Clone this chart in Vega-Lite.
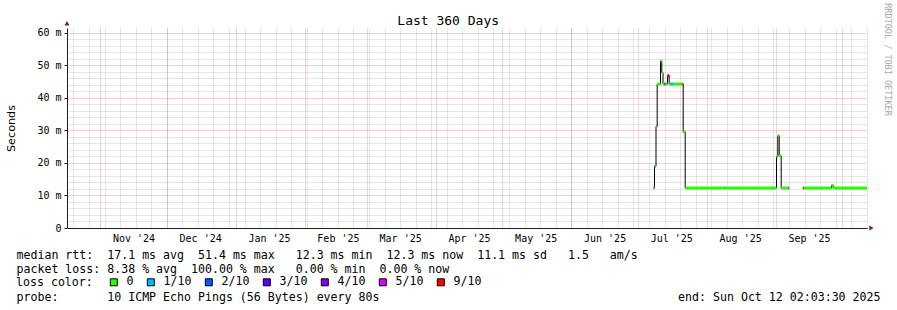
{
  "$schema": "https://vega.github.io/schema/vega-lite/v6.json",
  "width": 800,
  "height": 200,
  "autosize": "none",
  "padding": {"left": 67, "top": 28, "right": 30, "bottom": 82},
  "background": "white",
  "config": {
    "view": {"stroke": null},
    "font": "DejaVu Sans Mono",
    "axis": {
      "labelFont": "DejaVu Sans Mono",
      "titleFont": "DejaVu Sans Mono",
      "titleFontWeight": "normal",
      "titleColor": "black",
      "labelColor": "black"
    }
  },
  "data": {
    "values": [
      {"t0": "2025-07-07T18:52:00Z", "t1": "2025-07-08T11:04:00Z", "v": 0.0123, "loss": "0"},
      {"t0": "2025-07-08T11:04:00Z", "t1": "2025-07-09T03:16:00Z", "v": 0.0190, "loss": "1/10"},
      {"t0": "2025-07-09T03:16:00Z", "t1": "2025-07-09T16:13:00Z", "v": 0.0312, "loss": "1/10"},
      {"t0": "2025-07-09T16:13:00Z", "t1": "2025-07-11T03:52:00Z", "v": 0.0443, "loss": "0"},
      {"t0": "2025-07-11T03:52:00Z", "t1": "2025-07-11T17:54:00Z", "v": 0.0514, "loss": "0"},
      {"t0": "2025-07-11T17:54:00Z", "t1": "2025-07-12T06:52:00Z", "v": 0.0478, "loss": "0"},
      {"t0": "2025-07-12T06:52:00Z", "t1": "2025-07-12T17:40:00Z", "v": 0.0443, "loss": "0"},
      {"t0": "2025-07-12T17:40:00Z", "t1": "2025-07-13T09:52:00Z", "v": 0.0443, "loss": "5/10"},
      {"t0": "2025-07-13T09:52:00Z", "t1": "2025-07-14T07:28:00Z", "v": 0.0443, "loss": "0"},
      {"t0": "2025-07-14T07:28:00Z", "t1": "2025-07-15T01:49:00Z", "v": 0.0469, "loss": "9/10"},
      {"t0": "2025-07-15T01:49:00Z", "t1": "2025-07-15T15:52:00Z", "v": 0.0443, "loss": "0"},
      {"t0": "2025-07-15T15:52:00Z", "t1": "2025-07-16T21:01:00Z", "v": 0.0443, "loss": "1/10"},
      {"t0": "2025-07-16T21:01:00Z", "t1": "2025-07-21T01:28:00Z", "v": 0.0443, "loss": "0"},
      {"t0": "2025-07-21T01:28:00Z", "t1": "2025-07-21T09:01:00Z", "v": 0.0443, "loss": "9/10"},
      {"t0": "2025-07-21T09:01:00Z", "t1": "2025-07-22T06:37:00Z", "v": 0.0296, "loss": "0"},
      {"t0": "2025-07-22T06:37:00Z", "t1": "2025-08-08T23:04:00Z", "v": 0.0123, "loss": "0"},
      {"t0": "2025-08-08T23:04:00Z", "t1": "2025-08-09T09:52:00Z", "v": 0.0123, "loss": "1/10"},
      {"t0": "2025-08-09T09:52:00Z", "t1": "2025-09-01T08:40:00Z", "v": 0.0123, "loss": "0"},
      {"t0": "2025-09-01T08:40:00Z", "t1": "2025-09-01T22:42:00Z", "v": 0.0220, "loss": "0"},
      {"t0": "2025-09-01T22:42:00Z", "t1": "2025-09-02T13:49:00Z", "v": 0.0284, "loss": "0"},
      {"t0": "2025-09-02T13:49:00Z", "t1": "2025-09-03T11:25:00Z", "v": 0.0222, "loss": "0"},
      {"t0": "2025-09-03T11:25:00Z", "t1": "2025-09-06T18:16:00Z", "v": 0.0123, "loss": "0"},
      {"t0": "2025-09-06T18:16:00Z", "t1": "2025-09-07T01:49:00Z", "v": 0.0123, "loss": "3/10"},
      {"t0": "2025-09-07T01:49:00Z", "t1": null, "v": null, "loss": null},
      {"t0": "2025-09-13T04:42:00Z", "t1": "2025-09-13T15:30:00Z", "v": 0.0123, "loss": "9/10"},
      {"t0": "2025-09-13T15:30:00Z", "t1": "2025-09-26T02:40:00Z", "v": 0.0123, "loss": "0"},
      {"t0": "2025-09-26T02:40:00Z", "t1": "2025-09-26T21:01:00Z", "v": 0.0131, "loss": "0"},
      {"t0": "2025-09-26T21:01:00Z", "t1": "2025-10-12T02:03:30Z", "v": 0.0123, "loss": "0"}
    ]
  },
  "resolve": {"axis": {"x": "independent", "y": "independent"}, "scale": {"color": "independent"}},
  "layer": [
    {
      "mark": {"type": "line", "interpolate": "step-after", "color": "#000000", "strokeWidth": 1, "invalid": "break-paths-show-domains"},
      "encoding": {
        "x": {
          "field": "t0", "type": "temporal",
          "scale": {"type": "utc", "domain": [{"year": 2024, "month": 10, "date": 17, "hours": 2, "minutes": 3, "seconds": 30, "utc": true}, {"year": 2025, "month": 10, "date": 12, "hours": 2, "minutes": 3, "seconds": 30, "utc": true}]},
          "axis": {
            "orient": "bottom",
            "values": [
              {"year": 2024, "month": 11, "date": 16, "utc": true},
              {"year": 2024, "month": 12, "date": 16, "utc": true},
              {"year": 2025, "month": 1, "date": 16, "utc": true},
              {"year": 2025, "month": 2, "date": 16, "utc": true},
              {"year": 2025, "month": 3, "date": 16, "utc": true},
              {"year": 2025, "month": 4, "date": 16, "utc": true},
              {"year": 2025, "month": 5, "date": 16, "utc": true},
              {"year": 2025, "month": 6, "date": 16, "utc": true},
              {"year": 2025, "month": 7, "date": 16, "utc": true},
              {"year": 2025, "month": 8, "date": 16, "utc": true},
              {"year": 2025, "month": 9, "date": 16, "utc": true}
            ],
            "labelExpr": "utcFormat(datum.value, \"%b '%y\")",
            "labelFontSize": 10,
            "labelPadding": 5,
            "labelAlign": "center",
            "labelFlush": false,
            "labelOverlap": false,
            "ticks": false,
            "grid": false,
            "domain": true,
            "domainColor": "#1f1f1f",
            "title": [
              "median rtt:\u00a0\u00a017.1 ms avg\u00a0\u00a051.4 ms max\u00a0\u00a0\u00a012.3 ms min\u00a0\u00a012.3 ms now\u00a0\u00a011.1 ms sd\u00a0\u00a0\u00a01.5\u00a0\u00a0\u00a0am/s",
              "packet loss:\u00a08.38 % avg\u00a0\u00a0100.00 % max\u00a0\u00a0\u00a00.00 % min\u00a0\u00a00.00 % now"
            ],
            "titleFontSize": 11.6,
            "titleAlign": "left",
            "titleBaseline": "alphabetic",
            "titleLineHeight": 14,
            "titleX": -51,
            "titleY": 30,
            "zindex": 0
          }
        },
        "y": {
          "field": "v", "type": "quantitative",
          "scale": {"domain": [0, 0.061538], "nice": false, "zero": false},
          "axis": {
            "orient": "left",
            "values": [0.002, 0.004, 0.006, 0.008, 0.012, 0.014, 0.016, 0.018, 0.022, 0.024, 0.026, 0.028, 0.032, 0.034, 0.036, 0.038, 0.042, 0.044, 0.046, 0.048, 0.052, 0.054, 0.056, 0.058, 0.062],
            "labels": false, "ticks": false, "domain": false, "title": null,
            "grid": true, "gridColor": "#8f8f8f", "gridOpacity": 0.45, "gridDash": [1, 1], "gridWidth": 1,
            "zindex": 0
          }
        }
      }
    },
    {
      "mark": {"type": "rule", "strokeWidth": 3, "strokeCap": "butt"},
      "encoding": {
        "x": {
          "field": "t0", "type": "temporal",
          "scale": {"type": "utc", "domain": [{"year": 2024, "month": 10, "date": 17, "hours": 2, "minutes": 3, "seconds": 30, "utc": true}, {"year": 2025, "month": 10, "date": 12, "hours": 2, "minutes": 3, "seconds": 30, "utc": true}]},
          "axis": {
            "orient": "bottom",
            "tickCount": {"interval": "week", "step": 1},
            "labels": false, "ticks": false, "domain": false,
            "grid": true, "gridColor": "#8f8f8f", "gridOpacity": 0.45, "gridDash": [1, 1], "gridWidth": 1,
            "title": "end: Sun Oct 12 02:03:30 2025",
            "titleFontSize": 11.6,
            "titleAlign": "right",
            "titleBaseline": "alphabetic",
            "titleX": 813,
            "titleY": 72,
            "zindex": 0
          }
        },
        "x2": {"field": "t1"},
        "y": {
          "field": "v", "type": "quantitative",
          "scale": {"domain": [0, 0.061538], "nice": false, "zero": false},
          "axis": {
            "orient": "left",
            "values": [0, 0.01, 0.02, 0.03, 0.04, 0.05, 0.06],
            "labelExpr": "datum.value == 0 ? '0' : format(datum.value * 1000, 'd') + ' m'",
            "labelFontSize": 10,
            "labelPadding": 3,
            "labelBaseline": "middle",
            "ticks": true, "tickSize": 3, "tickColor": "#1f1f1f",
            "domain": true, "domainColor": "#1f1f1f",
            "grid": true, "gridColor": "#de4f4f", "gridOpacity": 0.5, "gridDash": [1, 1], "gridWidth": 1,
            "title": "Seconds",
            "titleFont": "DejaVu Sans",
            "titleFontSize": 11.2,
            "titleAngle": -90,
            "titleAlign": "center",
            "titleBaseline": "middle",
            "titleX": -56,
            "titleY": 100,
            "zindex": 0
          }
        },
        "color": {
          "field": "loss", "type": "nominal",
          "scale": {
            "domain": ["0", "1/10", "2/10", "3/10", "4/10", "5/10", "9/10"],
            "range": ["#26ff00", "#00b8ff", "#0059ff", "#5e00ff", "#7e00ff", "#dd00ff", "#ff0000"]
          },
          "legend": null
        }
      }
    },
    {
      "mark": {"type": "point", "shape": "square", "filled": true, "size": 49, "opacity": 0},
      "encoding": {
        "x": {
          "field": "t0", "type": "temporal",
          "scale": {"type": "utc", "domain": [{"year": 2024, "month": 10, "date": 17, "hours": 2, "minutes": 3, "seconds": 30, "utc": true}, {"year": 2025, "month": 10, "date": 12, "hours": 2, "minutes": 3, "seconds": 30, "utc": true}]},
          "axis": null
        },
        "y": {
          "field": "v", "type": "quantitative",
          "scale": {"domain": [0, 0.061538], "nice": false, "zero": false},
          "axis": null
        },
        "color": {
          "field": "loss", "type": "nominal",
          "scale": {
            "domain": ["0", "1/10", "2/10", "3/10", "4/10", "5/10", "9/10"],
            "range": ["#26ff00", "#00b8ff", "#0059ff", "#5e00ff", "#7e00ff", "#dd00ff", "#ff0000"]
          },
          "legend": {
            "orient": "none",
            "legendX": -51,
            "legendY": 248.5,
            "direction": "horizontal",
            "gridAlign": "none",
            "padding": 0,
            "title": "loss color:",
            "titleOrient": "left",
            "titleAnchor": "middle",
            "titleBaseline": "middle",
            "titlePadding": 15,
            "titleFont": "DejaVu Sans Mono",
            "titleFontSize": 11.6,
            "titleFontWeight": "normal",
            "titleColor": "black",
            "labelFont": "DejaVu Sans Mono",
            "labelFontSize": 11.6,
            "labelColor": "black",
            "labelOffset": 7,
            "columnPadding": 11,
            "symbolType": "square",
            "symbolSize": 49,
            "symbolOpacity": 1,
            "symbolStrokeColor": "black",
            "symbolStrokeWidth": 1
          }
        }
      }
    },
    {
      "data": {"values": [{}]},
      "mark": {"type": "point", "shape": "triangle-right", "filled": true, "size": 25, "color": "#801f1f", "opacity": 1},
      "encoding": {
        "x": {
          "datum": {"year": 2025, "month": 10, "date": 14, "hours": 2, "minutes": 40, "utc": true}, "type": "temporal",
          "scale": {"type": "utc", "domain": [{"year": 2024, "month": 10, "date": 17, "hours": 2, "minutes": 3, "seconds": 30, "utc": true}, {"year": 2025, "month": 10, "date": 12, "hours": 2, "minutes": 3, "seconds": 30, "utc": true}]},
          "axis": {
            "orient": "bottom",
            "tickCount": {"interval": "month", "step": 1},
            "labels": false, "ticks": false, "domain": false,
            "grid": true, "gridColor": "#de4f4f", "gridOpacity": 0.5, "gridDash": [1, 1], "gridWidth": 1,
            "title": "probe:\u00a0\u00a0\u00a0\u00a0\u00a0\u00a0\u00a010 ICMP Echo Pings (56 Bytes) every 80s",
            "titleFontSize": 11.6,
            "titleAlign": "left",
            "titleBaseline": "alphabetic",
            "titleX": -51,
            "titleY": 72,
            "zindex": 0
          }
        },
        "y": {
          "datum": 0, "type": "quantitative",
          "scale": {"domain": [0, 0.061538], "nice": false, "zero": false},
          "axis": {
            "orient": "right",
            "labels": false, "ticks": false, "domain": false, "grid": false,
            "title": "RRDTOOL / TOBI OETIKER",
            "titleFont": "DejaVu Sans Mono",
            "titleFontSize": 8.5,
            "titleColor": "#a8a8a8",
            "titleAngle": 90,
            "titleAlign": "center",
            "titleBaseline": "middle",
            "titleX": 20.5,
            "titleY": 31
          }
        }
      }
    },
    {
      "data": {"values": [{}]},
      "mark": {"type": "point", "shape": "triangle-up", "filled": true, "size": 25, "color": "#801f1f", "opacity": 1},
      "encoding": {
        "x": {
          "datum": {"year": 2024, "month": 10, "date": 17, "hours": 2, "minutes": 3, "seconds": 30, "utc": true}, "type": "temporal",
          "scale": {"type": "utc", "domain": [{"year": 2024, "month": 10, "date": 17, "hours": 2, "minutes": 3, "seconds": 30, "utc": true}, {"year": 2025, "month": 10, "date": 12, "hours": 2, "minutes": 3, "seconds": 30, "utc": true}]},
          "axis": {
            "orient": "top",
            "labels": false, "ticks": false, "domain": false, "grid": false,
            "title": "Last 360 Days",
            "titleFontSize": 13,
            "titleAlign": "center",
            "titleBaseline": "alphabetic",
            "titleX": 380.7,
            "titleY": -4
          }
        },
        "y": {
          "datum": 0.063, "type": "quantitative",
          "scale": {"domain": [0, 0.061538], "nice": false, "zero": false},
          "axis": null
        }
      }
    }
  ]
}
